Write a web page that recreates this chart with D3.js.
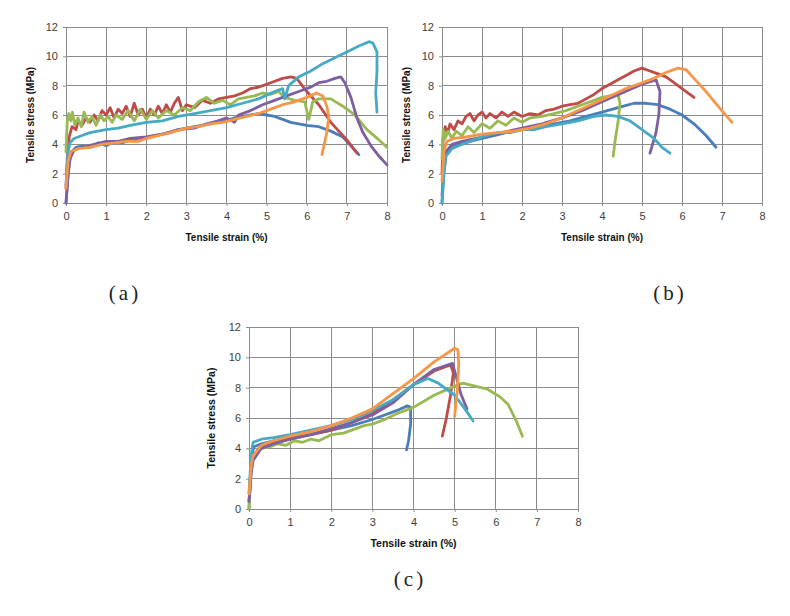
<!DOCTYPE html>
<html><head><meta charset="utf-8">
<script src="https://cdn.jsdelivr.net/npm/d3@7/dist/d3.min.js"></script>
<style>body{margin:0;background:#fff}svg{display:block}</style>
</head><body>
<svg id="c" width="790" height="616"></svg>
<script>
const xTicks = [0,1,2,3,4,5,6,7,8];
const yTicks = [0,2,4,6,8,10,12];
const seriesNames = ["blue","red","green","purple","aqua","orange"];
const seriesColors = ["#4A7EBB","#BE4B48","#98B954","#7D60A0","#46AAC5","#F79646"];
const panelLabels = ["(a)","(b)","(c)"];
const xTitle = "Tensile strain (%)";
const yTitle = "Tensile stress (MPa)";

// Panel (a) [strain %, stress MPa]
const aBlue = [[0,0],[0.04,1.5],[0.08,2.8],[0.15,3.5],[0.25,3.8],[0.4,3.9],[0.6,3.8],[0.8,4.1],[1.0,3.9],[1.2,4.2],[1.4,4.1],[1.6,4.3],[1.8,4.4],[2.0,4.4],[2.2,4.6],[2.4,4.7],[2.6,4.8],[2.8,5.0],[3.0,5.1],[3.2,5.2],[3.4,5.3],[3.6,5.4],[3.8,5.6],[4.0,5.6],[4.2,5.8],[4.4,5.9],[4.6,6.0],[4.8,6.1],[5.0,6.0],[5.2,5.9],[5.4,5.7],[5.6,5.5],[5.8,5.4],[6.0,5.3],[6.3,5.2],[6.6,4.9],[6.9,4.5],[7.1,3.9],[7.3,3.3]];
const aRed = [[0,1],[0.03,3],[0.08,4.5],[0.15,5.2],[0.25,5.0],[0.3,5.6],[0.4,5.3],[0.5,5.8],[0.6,5.5],[0.7,6.0],[0.8,5.6],[0.9,6.3],[1.0,6.0],[1.1,6.5],[1.2,5.8],[1.3,6.4],[1.4,6.1],[1.5,6.6],[1.6,5.9],[1.7,6.8],[1.8,6.0],[1.9,6.4],[2.0,5.8],[2.1,6.4],[2.2,6.0],[2.3,6.6],[2.4,6.1],[2.5,6.7],[2.6,6.2],[2.7,6.8],[2.8,7.2],[2.9,6.3],[3.0,6.7],[3.2,6.5],[3.4,7.0],[3.6,6.8],[3.8,7.1],[4.0,7.2],[4.2,7.3],[4.4,7.5],[4.6,7.8],[4.8,7.9],[5.0,8.1],[5.2,8.3],[5.4,8.5],[5.6,8.6],[5.75,8.5],[6.0,7.6],[6.3,6.7],[6.6,5.5],[7.0,4.3],[7.25,3.4]];
const aGreen = [[0,3.5],[0.03,5.5],[0.07,6.1],[0.12,5.6],[0.16,6.2],[0.22,5.3],[0.3,5.8],[0.38,5.2],[0.45,6.2],[0.55,5.5],[0.65,5.9],[0.75,5.3],[0.85,6.0],[0.95,5.6],[1.05,5.9],[1.15,5.5],[1.25,6.0],[1.4,5.7],[1.55,6.3],[1.7,5.6],[1.85,6.4],[2.0,5.7],[2.15,6.3],[2.3,5.8],[2.5,6.3],[2.7,6.0],[2.9,6.5],[3.1,6.3],[3.3,6.9],[3.5,7.2],[3.7,6.8],[3.9,7.0],[4.1,6.7],[4.3,7.1],[4.5,7.2],[4.7,7.3],[4.9,7.5],[5.1,7.4],[5.3,7.6],[5.45,7.2],[5.7,7.0],[5.95,6.9],[6.05,5.7],[6.15,6.9],[6.3,7.1],[6.6,7.1],[6.9,6.6],[7.2,6.0],[7.5,5.0],[7.8,4.3],[8.0,3.8]];
const aPurple = [[0,0],[0.05,1.8],[0.1,3.0],[0.2,3.6],[0.4,3.8],[0.7,4.0],[1.0,4.2],[1.3,4.2],[1.6,4.4],[2.0,4.5],[2.4,4.7],[2.8,5.0],[3.2,5.1],[3.5,5.4],[3.8,5.6],[4.0,5.8],[4.2,5.5],[4.3,6.0],[4.6,6.3],[4.9,6.7],[5.2,7.0],[5.5,7.3],[5.8,7.6],[6.1,7.9],[6.3,8.2],[6.5,8.3],[6.7,8.5],[6.85,8.6],[6.95,8.2],[7.1,7.2],[7.25,5.8],[7.4,4.8],[7.6,3.9],[7.8,3.2],[8.0,2.6]];
const aAqua = [[0,1.2],[0.05,3.5],[0.1,4.1],[0.2,4.4],[0.4,4.6],[0.6,4.8],[0.8,4.9],[1.0,5.0],[1.3,5.1],[1.6,5.3],[2.0,5.5],[2.4,5.6],[2.8,5.9],[3.2,6.1],[3.6,6.3],[4.0,6.5],[4.4,6.8],[4.8,7.1],[5.2,7.6],[5.4,7.8],[5.45,7.1],[5.55,8.0],[5.8,8.6],[6.1,9.0],[6.4,9.5],[6.7,9.9],[7.0,10.3],[7.3,10.7],[7.55,11.0],[7.65,10.9],[7.75,10.3],[7.75,9.0],[7.72,7.5],[7.75,6.2]];
const aOrange = [[0,1],[0.05,2.8],[0.12,3.5],[0.3,3.7],[0.6,3.8],[0.9,4.0],[1.2,4.1],[1.5,4.2],[1.8,4.2],[2.0,4.4],[2.3,4.6],[2.6,4.8],[3.0,5.1],[3.3,5.2],[3.6,5.4],[3.9,5.5],[4.2,5.7],[4.5,5.9],[4.8,6.1],[5.1,6.4],[5.4,6.7],[5.7,6.9],[6.0,7.2],[6.25,7.5],[6.4,7.3],[6.5,6.6],[6.55,5.9],[6.5,4.8],[6.42,3.8],[6.38,3.3]];

// Panel (b)
const bBlue = [[0,0],[0.04,2],[0.1,3.3],[0.2,3.7],[0.4,4.0],[0.7,4.2],[1.0,4.4],[1.3,4.6],[1.6,4.8],[2.0,5.0],[2.4,5.2],[2.8,5.4],[3.2,5.6],[3.6,5.9],[4.0,6.2],[4.4,6.5],[4.8,6.8],[5.1,6.8],[5.4,6.7],[5.7,6.4],[6.0,6.0],[6.3,5.4],[6.6,4.6],[6.85,3.8]];
const bRed = [[0,2],[0.03,4.5],[0.08,5.2],[0.15,4.8],[0.2,5.4],[0.3,5.0],[0.4,5.6],[0.5,5.4],[0.6,5.9],[0.7,6.1],[0.8,5.6],[0.9,6.0],[1.0,6.2],[1.1,5.8],[1.2,6.1],[1.35,5.8],[1.5,6.2],[1.65,5.9],[1.8,6.2],[2.0,5.9],[2.2,6.1],[2.4,6.0],[2.6,6.3],[2.8,6.4],[3.0,6.6],[3.2,6.7],[3.4,6.8],[3.6,7.1],[3.8,7.4],[4.0,7.8],[4.2,8.1],[4.4,8.4],[4.6,8.7],[4.8,9.0],[5.0,9.2],[5.2,9.0],[5.4,8.8],[5.6,8.6],[5.8,8.2],[6.0,7.8],[6.3,7.2]];
const bGreen = [[0,3],[0.03,5.0],[0.08,4.4],[0.15,4.9],[0.25,4.4],[0.35,4.9],[0.5,4.6],[0.65,5.2],[0.8,4.8],[1.0,5.4],[1.2,5.1],[1.4,5.6],[1.6,5.3],[1.8,5.8],[2.0,5.5],[2.2,5.8],[2.5,5.9],[2.8,6.1],[3.1,6.3],[3.4,6.6],[3.7,6.9],[4.0,7.2],[4.2,7.3],[4.4,7.4],[4.45,6.8],[4.4,5.5],[4.33,4.3],[4.28,3.2]];
const bPurple = [[0,0.5],[0.05,2.5],[0.1,3.5],[0.25,4.0],[0.5,4.2],[1.0,4.5],[1.5,4.8],[2.0,5.1],[2.5,5.4],[3.0,5.8],[3.5,6.3],[4.0,6.9],[4.5,7.5],[5.0,8.1],[5.35,8.4],[5.45,7.6],[5.42,6.0],[5.35,4.8],[5.2,3.4]];
const bAqua = [[0,0],[0.05,2],[0.1,3.2],[0.25,3.7],[0.5,4.0],[0.8,4.3],[1.1,4.6],[1.4,4.8],[1.7,4.8],[2.0,5.0],[2.3,5.0],[2.6,5.2],[3.0,5.4],[3.4,5.6],[3.8,5.9],[4.1,6.0],[4.4,5.9],[4.7,5.6],[5.0,5.0],[5.3,4.4],[5.5,3.8],[5.7,3.4]];
const bOrange = [[0,1.5],[0.05,3.5],[0.12,4.2],[0.3,4.4],[0.6,4.5],[1.0,4.7],[1.4,4.8],[1.8,4.9],[2.2,5.1],[2.6,5.4],[3.0,5.8],[3.4,6.3],[3.8,6.8],[4.2,7.3],[4.6,7.8],[5.0,8.2],[5.3,8.5],[5.6,8.9],[5.9,9.2],[6.1,9.1],[6.3,8.5],[6.6,7.6],[6.9,6.6],[7.25,5.5]];

// Panel (c)
const cBlue = [[0,0],[0.03,2],[0.06,3.5],[0.12,4.1],[0.3,4.3],[0.6,4.5],[1.0,4.7],[1.5,4.9],[2.0,5.2],[2.5,5.5],[3.0,5.9],[3.3,6.2],[3.6,6.5],[3.85,6.8],[3.93,6.7],[3.93,5.6],[3.88,4.5],[3.83,3.9]];
const cRed = [[0,0.5],[0.05,2.5],[0.1,3.5],[0.3,4.2],[0.6,4.4],[1.0,4.6],[1.5,4.9],[2.0,5.2],[2.5,5.7],[3.0,6.3],[3.5,7.2],[4.0,8.2],[4.5,9.1],[4.9,9.5],[4.97,9.0],[4.9,7.5],[4.8,6.0],[4.7,4.8]];
const cGreen = [[0,0],[0.05,2.5],[0.1,3.5],[0.3,4.0],[0.5,4.1],[0.7,4.3],[0.9,4.2],[1.1,4.5],[1.3,4.4],[1.5,4.6],[1.7,4.5],[2.0,4.9],[2.3,5.0],[2.6,5.3],[2.8,5.5],[3.0,5.6],[3.3,5.9],[3.6,6.3],[4.0,6.7],[4.5,7.5],[5.0,8.1],[5.2,8.3],[5.5,8.1],[5.8,7.9],[6.1,7.4],[6.3,6.9],[6.5,5.8],[6.65,4.8]];
const cPurple = [[0,0.5],[0.05,2.3],[0.1,3.2],[0.3,4.0],[0.6,4.3],[1.0,4.6],[1.5,4.9],[2.0,5.3],[2.5,5.7],[3.0,6.2],[3.5,7.0],[4.0,8.2],[4.5,9.2],[4.95,9.6],[5.05,8.6],[5.15,7.6],[5.3,6.6]];
const cAqua = [[0,1],[0.05,3.5],[0.1,4.4],[0.3,4.6],[0.6,4.7],[1.0,4.9],[1.5,5.2],[2.0,5.5],[2.5,5.9],[3.0,6.5],[3.5,7.2],[4.0,8.2],[4.35,8.6],[4.6,8.3],[5.0,7.5],[5.25,6.6],[5.45,5.8]];
const cOrange = [[0,1],[0.05,2.8],[0.1,3.5],[0.3,4.2],[0.6,4.5],[1.0,4.8],[1.5,5.1],[2.0,5.5],[2.5,6.0],[3.0,6.6],[3.5,7.6],[4.0,8.6],[4.5,9.7],[5.0,10.6],[5.08,10.5],[5.1,9.5],[5.07,8.0],[5.0,6.1]];

const panelSeries = [
  [aBlue,aRed,aGreen,aPurple,aAqua,aOrange],
  [bBlue,bRed,bGreen,bPurple,bAqua,bOrange],
  [cBlue,cRed,cGreen,cPurple,cAqua,cOrange]
];

// Layout (pixel boxes for each panel)
const layout = [
  {x0:66, x1:387, y0:203, y1:27, tfs:10, ytx:34, xty:241, lx:125, ly:300},
  {x0:442, x1:762, y0:203, y1:27, tfs:10, ytx:410, xty:241, lx:670, ly:300},
  {x0:249, x1:578, y0:509, y1:327, tfs:10.5, ytx:215, xty:547, lx:410, ly:586}
];

const svg = d3.select("#c");
const line = (x,y) => d3.line().x(d=>x(d[0])).y(d=>y(d[1]));

layout.forEach((L,pi)=>{
  const x = d3.scaleLinear().domain([0,8]).range([L.x0,L.x1]);
  const y = d3.scaleLinear().domain([0,12]).range([L.y0,L.y1]);
  const g = svg.append("g");
  g.append("g").selectAll("line").data(xTicks).join("line")
    .attr("x1",d=>x(d)).attr("x2",d=>x(d)).attr("y1",L.y0).attr("y2",L.y1)
    .attr("stroke","#8c8c8c").attr("stroke-width",1).attr("shape-rendering","crispEdges");
  g.append("g").selectAll("line").data(yTicks).join("line")
    .attr("x1",L.x0).attr("x2",L.x1).attr("y1",d=>y(d)).attr("y2",d=>y(d))
    .attr("stroke","#8c8c8c").attr("stroke-width",1).attr("shape-rendering","crispEdges");
  const xa = g.append("g").attr("transform",`translate(0,${L.y0})`)
    .call(d3.axisBottom(x).tickValues(xTicks).tickSize(3).tickFormat(d3.format("d")));
  const ya = g.append("g").attr("transform",`translate(${L.x0},0)`)
    .call(d3.axisLeft(y).tickValues(yTicks).tickSize(3).tickFormat(d3.format("d")));
  [xa,ya].forEach(a=>{
    a.select(".domain").attr("stroke","#8c8c8c");
    a.selectAll(".tick line").attr("stroke","#8c8c8c");
    a.selectAll(".tick text").attr("fill","#404040").style("font-family","Liberation Sans, Arial, sans-serif").style("font-size","11px");
  });
  xa.selectAll(".tick text").attr("dy","1em");
  ya.selectAll(".tick text").attr("dx","-2");
  panelSeries[pi].forEach((s,si)=>{
    g.append("path").datum(s).attr("d",line(x,y)).attr("fill","none")
      .attr("stroke",seriesColors[si]).attr("stroke-width",2.8)
      .attr("stroke-linejoin","round").attr("stroke-linecap","round");
  });
  g.append("text").attr("x",(L.x0+L.x1)/2).attr("y",L.xty).attr("text-anchor","middle")
    .style("font-family","Liberation Sans, Arial, sans-serif").style("font-weight","bold")
    .style("font-size",L.tfs+"px").attr("fill","#111").text(xTitle);
  g.append("text").attr("transform",`translate(${L.ytx},${(L.y0+L.y1)/2}) rotate(-90)`)
    .attr("text-anchor","middle")
    .style("font-family","Liberation Sans, Arial, sans-serif").style("font-weight","bold")
    .style("font-size",L.tfs+"px").attr("fill","#111").text(yTitle);
  svg.append("text").attr("x",L.lx).attr("y",L.ly).attr("text-anchor","middle")
    .style("font-family","Liberation Serif, serif").style("font-size","21px")
    .style("letter-spacing","3px").attr("fill","#222").text(panelLabels[pi]);
});
</script>
</body></html>
